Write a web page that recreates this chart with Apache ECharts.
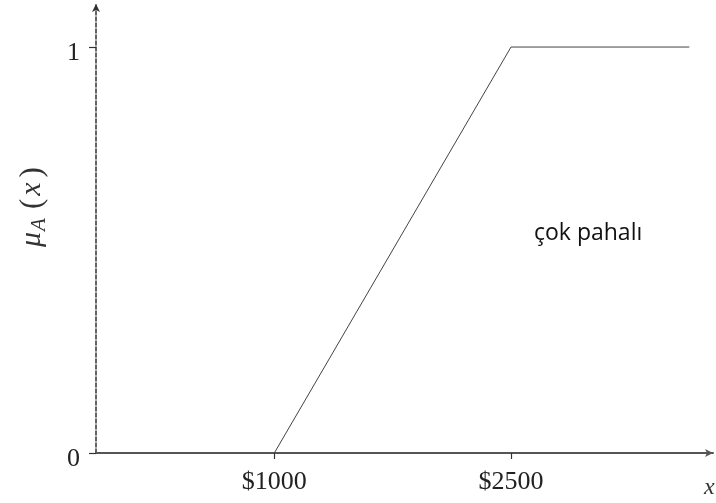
<!DOCTYPE html>
<html>
<head>
<meta charset="utf-8">
<script src="https://cdn.jsdelivr.net/npm/echarts@6/dist/echarts.min.js"></script>
<style>
  html, body { margin: 0; padding: 0; background: #fff; }
  #chart { width: 716px; height: 503px; }
</style>
</head>
<body>
<div id="chart"></div>
<script>
// Membership function of the fuzzy set "çok pahalı" (very expensive)
const priceBreaks = [1000, 2500, 3630];
const membership = [0, 1, 1];
const xTicks = [1000, 2500];
const yTicks = [0, 1];
const setLabel = 'çok pahalı';

const serif = '"Liberation Serif", "DejaVu Serif", serif';

const chart = echarts.init(document.getElementById('chart'));
chart.setOption({
  animation: false,
  backgroundColor: '#ffffff',
  grid: { left: 96, right: 3, top: 4, bottom: 50 },
  xAxis: {
    type: 'value',
    min: -130,
    max: 3780,
    splitLine: { show: false },
    axisLine: {
      show: true,
      onZero: false,
      symbol: ['none', 'arrow'],
      symbolSize: [6, 8],
      lineStyle: { color: '#555', width: 2 }
    },
    axisTick: {
      show: true,
      customValues: xTicks,
      length: 6,
      inside: false,
      lineStyle: { color: '#333', width: 1.2 }
    },
    axisLabel: {
      customValues: xTicks,
      formatter: v => '$' + v,
      fontFamily: serif,
      fontSize: 26,
      color: '#222',
      margin: 16
    }
  },
  yAxis: {
    type: 'value',
    min: 0,
    max: 1.106,
    splitLine: { show: false },
    axisLine: {
      show: true,
      onZero: false,
      symbol: ['none', 'arrow'],
      symbolSize: [6, 8],
      lineStyle: { color: '#333', width: 1.5, type: [4, 2] }
    },
    axisTick: {
      show: true,
      customValues: yTicks,
      length: 7,
      inside: false,
      lineStyle: { color: '#333', width: 1.2 }
    },
    axisLabel: {
      customValues: yTicks,
      fontFamily: serif,
      fontSize: 26,
      color: '#222',
      margin: 16,
      verticalAlign: 'top',
      lineHeight: 12
    }
  },
  series: [{
    type: 'line',
    data: priceBreaks.map((x, i) => [x, membership[i]]),
    symbol: 'none',
    lineStyle: { color: '#444', width: 1 }
  }],
  graphic: [
    {
      type: 'text',
      left: 534,
      top: 222,
      style: {
        text: setLabel,
        font: '23px "Open Sans", "Noto Sans", sans-serif',
        fill: '#111'
      }
    },
    {
      type: 'text',
      x: 704,
      y: 476,
      style: {
        text: 'x',
        font: 'italic 24px ' + serif,
        fill: '#333'
      }
    },
    {
      type: 'text',
      x: 15,
      y: 247,
      rotation: Math.PI / 2,
      style: {
        text: '{m|μ}{s|A}{p|(}{v|x}{p|)}',
        rich: {
          m: { font: 'italic 30px ' + serif, fill: '#333', padding: [0, 1, 0, 0] },
          s: { font: 'italic 21px ' + serif, fill: '#333', padding: [14, 6, 0, 0] },
          p: { font: '31px ' + serif, fill: '#333', padding: [0, 3, 0, 3] },
          v: { font: 'italic 30px ' + serif, fill: '#333', padding: [0, 2, 0, 0] }
        }
      }
    }
  ]
});
</script>
</body>
</html>
